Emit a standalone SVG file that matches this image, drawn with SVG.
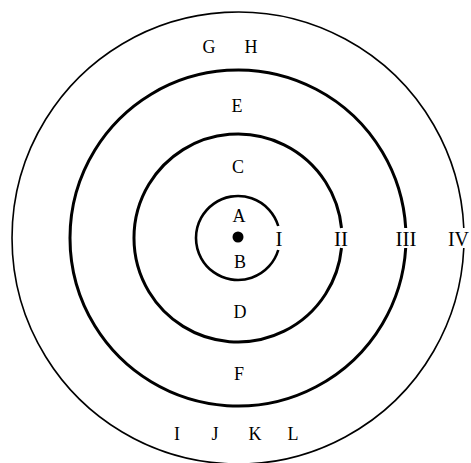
<svg xmlns="http://www.w3.org/2000/svg" width="471" height="463" viewBox="0 0 471 463">
<style>
.ring{fill:none;stroke:#000}
.lbl{font-family:"Liberation Serif","Times New Roman",serif;font-size:18px;fill:#000;text-anchor:middle}
.num{font-family:"Liberation Serif","Times New Roman",serif;font-size:21px;fill:#000;text-anchor:middle}
</style>
<rect width="471" height="463" fill="#fff"/>
<g id="rings">
<path id="ring-I" class="ring" stroke-width="2.6" d="M278.25 226 A42 42 0 1 0 278.25 250"/>
<path id="ring-II" class="ring" stroke-width="3" d="M341.5 228 A104 104 0 1 0 341.5 248"/>
<path id="ring-III" class="ring" stroke-width="3" d="M405.7 228 A168 168 0 1 0 405.7 248"/>
<path id="ring-IV" class="ring" stroke-width="1.6" d="M463.8 228 A226 226 0 1 0 463.8 248"/>
</g>
<g id="center"><circle cx="238" cy="237" r="5.5" fill="#000"/></g>
<g id="labels">
<text class="lbl" x="239" y="222">A</text>
<text class="lbl" x="240" y="268">B</text>
<text class="lbl" x="238" y="173">C</text>
<text class="lbl" x="240" y="318">D</text>
<text class="lbl" x="237" y="112">E</text>
<text class="lbl" x="239" y="380">F</text>
<text class="lbl" x="209" y="53">G</text>
<text class="lbl" x="251" y="53">H</text>
<text class="lbl" x="177" y="440">I</text>
<text class="lbl" x="215" y="440">J</text>
<text class="lbl" x="255" y="440">K</text>
<text class="lbl" x="293" y="440">L</text>
</g>
<g id="numerals">
<text class="num" x="279" y="246">I</text>
<text class="num" x="341" y="246">II</text>
<text class="num" x="406" y="246">III</text>
<text class="num" x="469" y="246" style="text-anchor:end;font-size:20px">IV</text>
</g>
</svg>
